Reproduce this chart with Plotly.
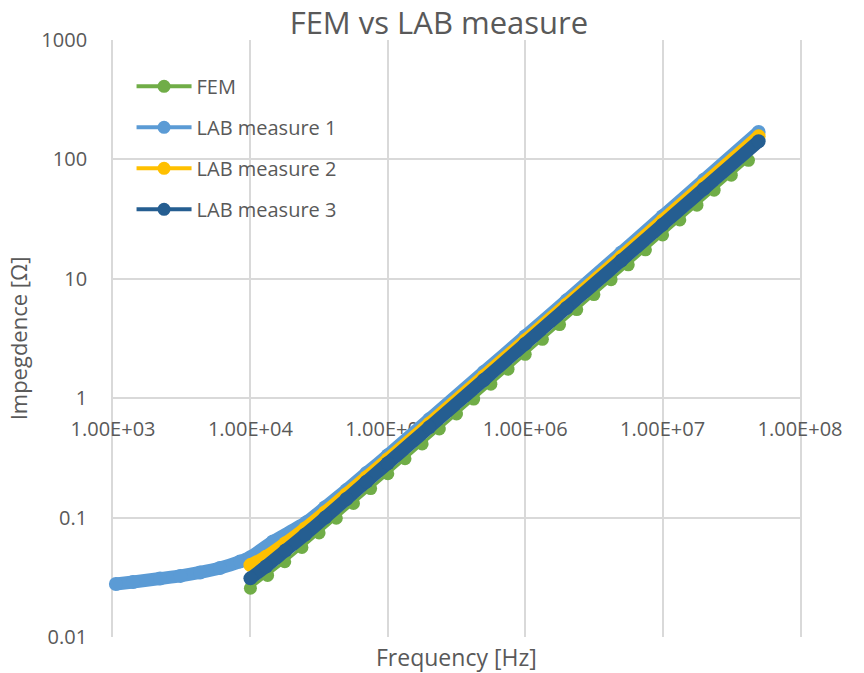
import plotly.graph_objects as go

# ---------------- data ----------------
fem_f = [1.000e4, 1.334e4, 1.778e4, 2.371e4, 3.162e4, 4.217e4, 5.623e4, 7.499e4,
         1.000e5, 1.334e5, 1.778e5, 2.371e5, 3.162e5, 4.217e5, 5.623e5, 7.499e5,
         1.000e6, 1.334e6, 1.778e6, 2.371e6, 3.162e6, 4.217e6, 5.623e6, 7.499e6,
         1.000e7, 1.334e7, 1.778e7, 2.371e7, 3.162e7, 4.217e7]
fem_z = [0.0256, 0.0328, 0.0427, 0.0562, 0.0744, 0.0988, 0.1314, 0.175,
         0.233, 0.311, 0.414, 0.552, 0.737, 0.983, 1.31, 1.75,
         2.33, 3.11, 4.14, 5.52, 7.37, 9.83, 13.1, 17.5,
         23.3, 31.1, 41.4, 55.2, 73.7, 98.3]

lab1_f = [1.05e3, 1.4e3, 2.2e3, 3.1e3, 4.3e3, 6.0e3, 8.4e3, 1.0e4, 1.46e4, 2.56e4,
          3.5e4, 5.0e4, 7.0e4, 1.0e5, 2.0e5, 5.0e5, 1.0e6, 2.0e6, 5.0e6, 1.0e7, 2.0e7, 5.0e7]
lab1_z = [0.0278, 0.0289, 0.0309, 0.0325, 0.0347, 0.0378, 0.0428, 0.0465, 0.0630, 0.0915,
          0.122, 0.170, 0.236, 0.333, 0.665, 1.66, 3.30, 6.60, 16.6, 33.4, 67.5, 170.0]

lab2_f = [1.0e4, 1.3e4, 1.8e4, 2.5e4, 3.5e4, 5.0e4, 7.0e4, 1.0e5, 2.0e5, 5.0e5,
          1.0e6, 2.0e6, 5.0e6, 1.0e7, 2.0e7, 5.0e7]
lab2_z = [0.040, 0.047, 0.061, 0.081, 0.111, 0.157, 0.218, 0.308, 0.612, 1.53,
          3.05, 6.10, 15.3, 30.8, 62.0, 156.0]

lab3_f = [1.0e4, 1.3e4, 1.8e4, 2.5e4, 3.5e4, 5.0e4, 7.0e4, 1.0e5, 2.0e5, 5.0e5,
          1.0e6, 2.0e6, 5.0e6, 1.0e7, 2.0e7, 5.0e7]
lab3_z = [0.031, 0.039, 0.053, 0.072, 0.100, 0.143, 0.200, 0.285, 0.570, 1.42,
          2.85, 5.70, 14.2, 28.4, 56.8, 142.0]

series_names = ["FEM", "LAB measure 1", "LAB measure 2", "LAB measure 3"]
series_colors = ["#70AD47", "#5B9BD5", "#FFC000", "#255E91"]

x_tickvals = [1e3, 1e4, 1e5, 1e6, 1e7, 1e8]
x_ticktext = ["1.00E+03", "1.00E+04", "1.00E+05", "1.00E+06", "1.00E+07", "1.00E+08"]
y_tickvals = [0.01, 0.1, 1, 10, 100, 1000]
y_ticktext = ["0.01", "0.1", "1", "10", "100", "1000"]

TXT = "#595959"
GRID = "#D9D9D9"
FONT = "Open Sans"

fig = go.Figure()

# FEM: markers with thin line
fig.add_trace(go.Scatter(x=fem_f, y=fem_z, mode="lines+markers", name=series_names[0],
                         line=dict(color=series_colors[0], width=3),
                         marker=dict(color=series_colors[0], size=13),
                         cliponaxis=False, showlegend=False))
# LAB measures: thick bands (dense markers in original)
for fx, zz, nm, col in [(lab1_f, lab1_z, series_names[1], series_colors[1]),
                        (lab2_f, lab2_z, series_names[2], series_colors[2]),
                        (lab3_f, lab3_z, series_names[3], series_colors[3])]:
    fig.add_trace(go.Scatter(x=fx, y=zz, mode="lines+markers", name=nm,
                             line=dict(color=col, width=13, shape="spline", smoothing=0.6),
                             marker=dict(color=col, size=14),
                             cliponaxis=False, showlegend=False))

# legend entries
for i, (nm, col) in enumerate(zip(series_names, series_colors)):
    fig.add_trace(go.Scatter(x=[None], y=[None], mode="lines+markers", name=nm,
                             legendgroup="g%d" % i,
                             line=dict(color=col, width=4),
                             marker=dict(color=col, size=13)))

fig.update_layout(
    width=864, height=673,
    margin=dict(l=113, r=64, t=40, b=36),
    paper_bgcolor="white", plot_bgcolor="white",
    font=dict(family=FONT, color=TXT, size=20),
    title=dict(text="FEM vs LAB measure", font=dict(family=FONT, size=31, color=TXT),
               x=0.508, xref="container", xanchor="center",
               y=0.966, yref="container", yanchor="middle"),
    legend=dict(x=0.027, y=0.955, xanchor="left", yanchor="top",
                bgcolor="rgba(0,0,0,0)", font=dict(family=FONT, size=20, color=TXT),
                traceorder="grouped", tracegroupgap=12, itemwidth=55),
    showlegend=True,
)

fig.update_xaxes(type="log", range=[3, 8], tickvals=x_tickvals, ticktext=x_ticktext,
                 showgrid=True, gridcolor=GRID, gridwidth=1.8,
                 anchor="free", position=0.4, showline=False, zeroline=False,
                 ticks="outside", ticklen=13, tickcolor="rgba(0,0,0,0)",
                 layer="below traces",
                 tickfont=dict(family=FONT, size=20, color=TXT))
fig.update_yaxes(type="log", range=[-2, 3], tickvals=y_tickvals, ticktext=y_ticktext,
                 showgrid=True, gridcolor=GRID, gridwidth=1.8,
                 showline=True, linecolor=GRID, linewidth=1.8, mirror=True, zeroline=False,
                 ticks="outside", ticklen=20, tickcolor="rgba(0,0,0,0)",
                 layer="below traces",
                 tickfont=dict(family=FONT, size=20, color=TXT),
                 title=dict(text="Impegdence [Ω]", font=dict(family=FONT, size=22, color=TXT),
                            standoff=8))

fig.add_annotation(text="Frequency [Hz]", xref="paper", yref="paper", x=0.5, y=-0.034,
                   xanchor="center", yanchor="middle", showarrow=False,
                   font=dict(family=FONT, size=23, color=TXT))

fig.write_html("out.html")
